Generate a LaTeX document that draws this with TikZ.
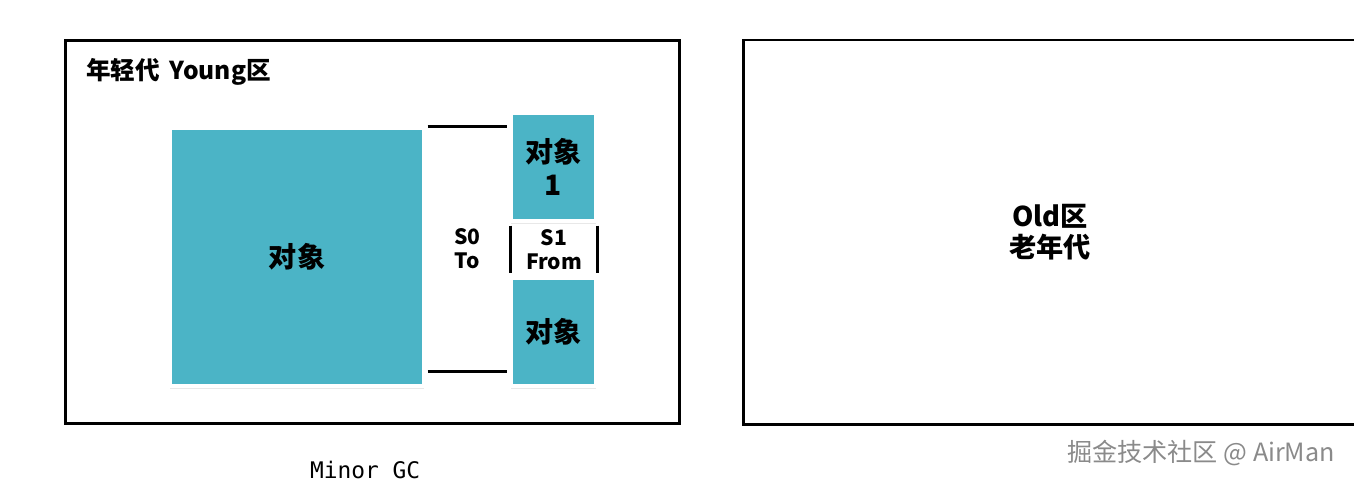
\documentclass[tikz,border=0pt]{standalone}
\usepackage{fontspec}
\setmainfont{Noto Sans CJK SC}
\newfontfamily\cjk{Noto Sans CJK SC}
\newfontfamily\codefont{DejaVu Sans Mono}
\usepackage{xcolor}
\usetikzlibrary{positioning, shadows}
\definecolor{objteal}{HTML}{4BB4C6}
\definecolor{markgray}{HTML}{8A8A8A}

\begin{document}
\begin{tikzpicture}[
    x=0.02cm, y=-0.02cm,
    area/.style={
        rectangle,
        draw=black,
        line width=1.7pt
    },
    objbox/.style={
        rectangle,
        fill=objteal,
        draw=white,
        line width=2.3pt,
        drop shadow={opacity=0.18, shadow xshift=0pt, shadow yshift=-1.6pt},
        align=center,
        font=\cjk\bfseries\fontsize{16}{19}\selectfont
    },
    space/.style={
        rectangle,
        inner sep=0pt,
        align=center,
        font=\cjk\bfseries\fontsize{12}{13.5}\selectfont
    },
    wall/.style={
        line width=1.7pt
    }
]
\useasboundingbox (0,0) rectangle (1354,484);

% === Young generation ===
\node[area, minimum width=12.3cm, minimum height=7.68cm] (young) at (372.5,232) {};
\node[font=\cjk\bfseries\fontsize{14}{16}\selectfont, anchor=west] (ytitle) at (80,72) {年轻代\hspace{0.4em}Young区};

% === Eden ===
\node[objbox, minimum width=5.08cm, minimum height=5.16cm] (eden) at (297,257) {对象};

% === S0 (To) ===
\node[space, minimum width=1.58cm, minimum height=4.88cm] (s0) at (467.5,249) {S0\\To};
\draw[wall] (s0.north west) -- (s0.north east);
\draw[wall] (s0.south west) -- (s0.south east);

% === S1 (From) ===
\node[objbox, minimum width=1.7cm, minimum height=2.16cm] (obj1) at (553.5,167) {对象\\1};
\node[space, minimum width=1.72cm, minimum height=0.94cm] (s1) at (554,249.5) {S1\\From};
\draw[wall] (s1.north west) -- (s1.south west);
\draw[wall] (s1.north east) -- (s1.south east);
\node[objbox, minimum width=1.7cm, minimum height=2.16cm] (obj2) at (553.5,332) {对象};

% === Old generation (runs off the right edge) ===
\coordinate (oldtr) at (1360,40);
\coordinate (oldbr) at (1360,424);
\draw[area] (oldtr) -- (743,40) -- (743,424) -- (oldbr);
\node[space, font=\cjk\bfseries\fontsize{15.5}{18}\selectfont] (old) at (1050,232) {Old区\\老年代};

% === Captions ===
\node[font=\codefont\fontsize{13}{15}\selectfont] (minorgc) at (365,470) {Minor GC};
\node[font=\cjk\fontsize{14.3}{16}\selectfont, text=markgray] (mark) at (1201,453) {掘金技术社区 @ AirMan};

\end{tikzpicture}
\end{document}
